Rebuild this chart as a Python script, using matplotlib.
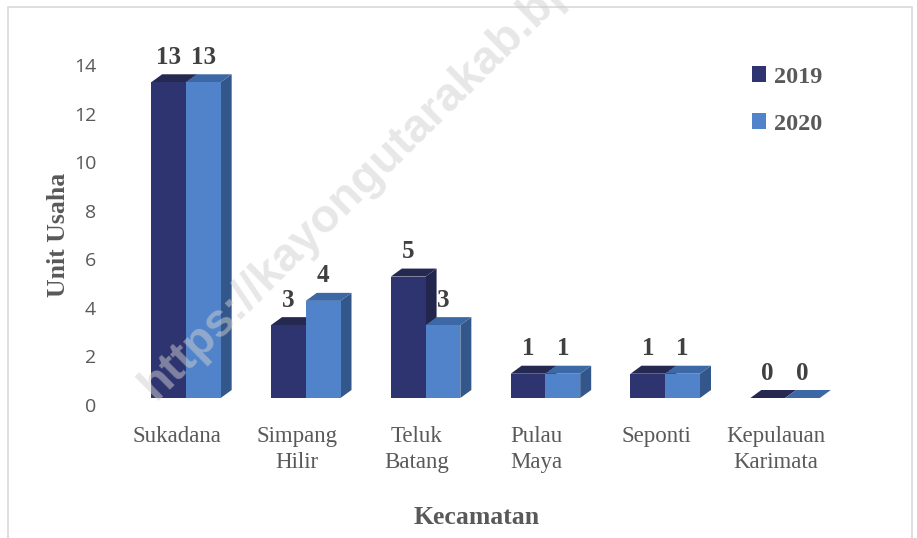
import matplotlib
matplotlib.use('Agg')
import matplotlib.pyplot as plt
from matplotlib.patches import Polygon, Rectangle, Patch
from matplotlib.transforms import offset_copy

# data
kecamatan = ['Sukadana', 'Simpang\nHilir', 'Teluk\nBatang', 'Pulau\nMaya', 'Seponti', 'Kepulauan\nKarimata']
y2019 = [13, 3, 5, 1, 1, 0]
y2020 = [13, 4, 3, 1, 1, 0]
years = ['2019', '2020']
yticks = [0, 2, 4, 6, 8, 10, 12, 14]

# colours: front, top, side
col2019 = ('#2e3470', '#252850', '#22264d')
col2020 = ('#5083ca', '#3c69a5', '#33578a')
grey = '#595959'
serif = 'Liberation Serif'

W, H, DPI = 917, 538, 100
fig = plt.figure(figsize=(W / DPI, H / DPI), dpi=DPI)

# axes placed in pixel units
left, right, top, bottom = 117, 836, 65, 405
ax = fig.add_axes([left / W, 1 - bottom / H, (right - left) / W, (bottom - top) / H])
ax.set_xlim(-0.5, len(kecamatan) - 0.5)
ax.set_ylim(0, 14)
for s in ax.spines.values():
    s.set_visible(False)
ax.set_yticks(yticks)
ax.set_yticklabels([str(t) for t in yticks], fontsize=14, color=grey, fontfamily='Open Sans')
ax.set_xticks(range(len(kecamatan)))
ax.set_xticklabels(kecamatan, fontsize=16.5, color=grey, fontfamily=serif, linespacing=1.3)
ax.tick_params(length=0, axis='y', pad=15)
ax.tick_params(length=0, axis='x', pad=15)
ax.set_ylabel('Unit Usaha', fontsize=18.5, fontweight='bold', color=grey, fontfamily=serif, labelpad=3)
ax.set_xlabel('Kecamatan', fontsize=18.5, fontweight='bold', color=grey, fontfamily=serif, labelpad=24)

# pseudo 3d columns
px_x = (right - left) / len(kecamatan)   # pixels per category
px_y = (bottom - top) / 14.0             # pixels per unit
ddx = 11 / px_x
ddy = 8 / px_y
shift = offset_copy(ax.transData, fig=fig, x=9, y=7, units='dots')
bw = 0.29

for k, (vals, cols) in enumerate([(y2019, col2019), (y2020, col2020)]):
    for i, v in enumerate(vals):
        x0 = i - bw + k * bw
        x1 = x0 + bw
        side = Polygon([(x1, 0), (x1 + ddx, ddy), (x1 + ddx, v + ddy), (x1, v)],
                       closed=True, facecolor=cols[2], edgecolor='none', transform=shift)
        topf = Polygon([(x0, v), (x1, v), (x1 + ddx, v + ddy), (x0 + ddx, v + ddy)],
                       closed=True, facecolor=cols[1], edgecolor='none', transform=shift)
        front = Rectangle((x0, 0), bw, v, facecolor=cols[0], edgecolor='none', transform=shift)
        ax.add_patch(side)
        ax.add_patch(topf)
        ax.add_patch(front)
        ax.text(x0 + bw / 2, v, str(v), ha='center', va='center', fontsize=18,
                fontweight='bold', color='#404040', fontfamily=serif,
                transform=offset_copy(ax.transData, fig=fig, x=9, y=32, units='dots'))

handles = [Patch(facecolor=col2019[0]), Patch(facecolor=col2020[0])]
leg = ax.legend(handles, years, loc='upper left', bbox_to_anchor=((752 - 22 - left) / (right - left), 1.06),
                frameon=False, handlelength=0.6, handleheight=0.6, handletextpad=0.3,
                labelspacing=1.05, prop={'family': serif, 'weight': 'bold', 'size': 17.5})
for t in leg.get_texts():
    t.set_color(grey)

# watermark
fig.text(163 / W, 1 - 408 / H, 'https://kayongutarakab.bps.go.id', rotation=44.6,
         rotation_mode='anchor', ha='left', va='bottom', fontsize=34, fontweight='bold',
         color='#d0d0d0', alpha=0.5, fontfamily='Liberation Sans', zorder=10)

# chart border
fig.patches.append(Rectangle((8 / W, -0.05), (912 - 8) / W, 1.05 - 7 / H, transform=fig.transFigure,
                             fill=False, edgecolor='#d9d9d9', lw=1.2))

fig.savefig('out.png', dpi=DPI)
